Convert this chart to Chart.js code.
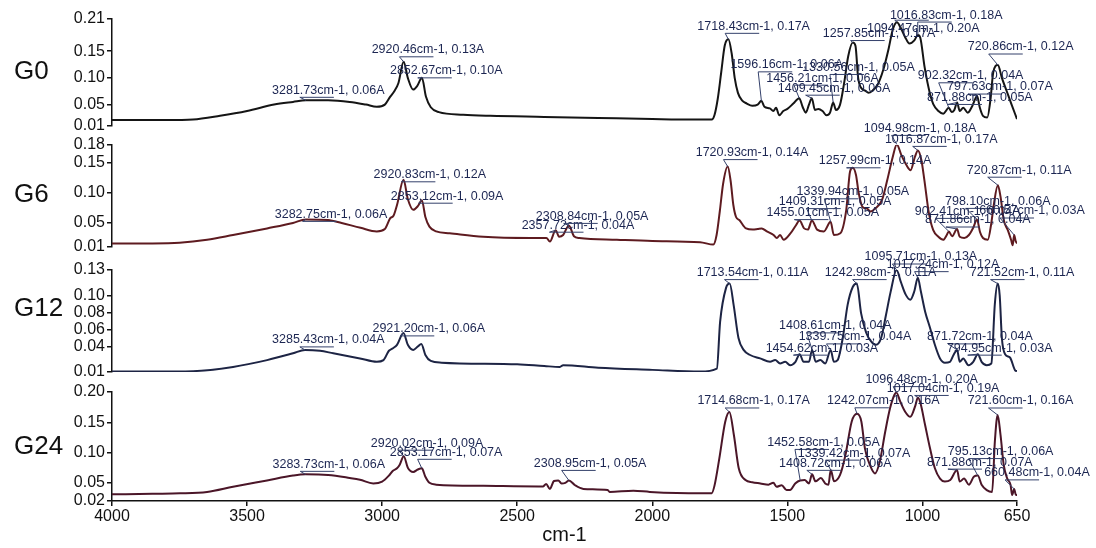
<!DOCTYPE html>
<html>
<head>
<meta charset="utf-8">
<title>FTIR</title>
<script src="https://cdn.jsdelivr.net/npm/chart.js@4/dist/chart.umd.min.js"></script>
<style>
  html, body { margin: 0; padding: 0; background: #fff; }
  #wrap { position: relative; width: 1096px; height: 548px; }
  #wrap canvas { position: absolute; left: 0; top: 0; }
</style>
</head>
<body>
<div id="wrap">
  <canvas id="c0" width="1096" height="548"></canvas>
  <canvas id="c1" width="1096" height="548"></canvas>
  <canvas id="c2" width="1096" height="548"></canvas>
  <canvas id="c3" width="1096" height="548"></canvas>
</div>
<script>
'use strict';

/* ════════════════════════════════════════
   FTIR 스펙트럼 (G0 / G6 / G12 / G24)
   ════════════════════════════════════════ */

var xTicks = [4000, 3500, 3000, 2500, 2000, 1500, 1000, 650];
var panelNames = ['G0', 'G6', 'G12', 'G24'];

/* ─── G0 ─── */
var g0Wn = [4000, 3800, 3700, 3600, 3500, 3400, 3330, 3281.73, 3200, 3120, 3060, 3020, 2990, 2970, 2955, 2940,
  2920.46, 2905, 2885, 2870, 2852.67, 2838, 2820, 2790, 2700, 2600, 2400, 2200, 2000, 1850, 1780, 1770, 1758,
  1745, 1732, 1718.43, 1706, 1695, 1683, 1668, 1650, 1630, 1610, 1596.16, 1585, 1565, 1552, 1542, 1530, 1515,
  1500, 1478, 1456.21, 1443, 1432, 1420, 1409.45, 1398, 1385, 1370, 1355, 1342, 1330.56, 1320, 1305, 1290,
  1275, 1257.85, 1248, 1238, 1225, 1212, 1200, 1185, 1165, 1145, 1125, 1110, 1094.47, 1080, 1065, 1048, 1030,
  1016.83, 1008, 992, 972, 960, 941, 923, 902.32, 892, 882, 871.88, 862, 849, 832, 815, 797.63, 788, 776, 760,
  748, 738, 720.86, 706, 688, 670, 650];
var g0Abs = [0.021, 0.021, 0.022, 0.029, 0.038, 0.050, 0.055, 0.058, 0.058, 0.055, 0.050, 0.046, 0.050, 0.065, 0.075, 0.090,
  0.130, 0.100, 0.078, 0.085, 0.100, 0.065, 0.045, 0.036, 0.031, 0.029, 0.027, 0.025, 0.023, 0.022, 0.022, 0.030, 0.060,
  0.110, 0.160, 0.172, 0.145, 0.100, 0.072, 0.058, 0.052, 0.048, 0.050, 0.057, 0.046, 0.043, 0.038, 0.044, 0.030, 0.038,
  0.042, 0.052, 0.062, 0.045, 0.035, 0.050, 0.062, 0.040, 0.042, 0.038, 0.030, 0.035, 0.054, 0.040, 0.050, 0.090,
  0.140, 0.166, 0.160, 0.100, 0.080, 0.076, 0.072, 0.076, 0.088, 0.115, 0.155, 0.190, 0.204, 0.193, 0.177, 0.164, 0.170,
  0.180, 0.175, 0.120, 0.070, 0.051, 0.038, 0.033, 0.044, 0.036, 0.040, 0.054, 0.038, 0.044, 0.035, 0.048, 0.066, 0.045, 0.029, 0.026,
  0.060, 0.110, 0.124, 0.100, 0.075, 0.050, 0.023];
var g0Ticks = [0.01, 0.05, 0.10, 0.15, 0.21];
var g0Peaks = [3281.73, 2920.46, 2852.67, 1718.43, 1596.16, 1330.56, 1456.21, 1409.45, 1257.85, 1094.47, 1016.83,
  720.86, 902.32, 797.63, 871.88];

/* ─── G6 ─── */
var g6Wn = [4000, 3850, 3750, 3648, 3552, 3426, 3330, 3282.75, 3200, 3150, 3080, 3020, 2990, 2970, 2958, 2945,
  2920.83, 2905, 2885, 2868, 2853.12, 2840, 2825, 2800, 2750, 2626, 2450, 2392, 2379, 2357.72, 2345, 2330, 2308.84,
  2290, 2270, 2131, 2000, 1823, 1774, 1762, 1750, 1738, 1720.93, 1710, 1700, 1690, 1678, 1653, 1628, 1610, 1595,
  1576, 1551, 1539, 1527, 1514, 1488, 1470, 1455.01, 1438, 1424, 1409.31, 1390, 1365, 1339.94, 1328, 1304, 1282,
  1268, 1257.99, 1246, 1236, 1222, 1205, 1192, 1175, 1150, 1130, 1110, 1094.98, 1078, 1060, 1044, 1028, 1016.87,
  1004, 993, 976, 960, 941, 923, 910, 902.41, 890, 871.86, 862, 845, 828, 812, 798.10, 787, 776, 758, 745, 736,
  720.87, 711, 699, 684, 672, 666, 660.57, 655, 650];
var g6Abs = [0.016, 0.016, 0.017, 0.022, 0.030, 0.041, 0.050, 0.056, 0.055, 0.050, 0.042, 0.036, 0.040, 0.058, 0.062, 0.080,
  0.122, 0.090, 0.072, 0.078, 0.088, 0.060, 0.044, 0.036, 0.033, 0.027, 0.025, 0.025, 0.019, 0.038, 0.027, 0.030, 0.046,
  0.028, 0.025, 0.022, 0.020, 0.018, 0.014, 0.030, 0.070, 0.115, 0.144, 0.120, 0.080, 0.060, 0.055, 0.041, 0.039, 0.040, 0.041,
  0.036, 0.030, 0.025, 0.030, 0.022, 0.033, 0.045, 0.054, 0.041, 0.039, 0.054, 0.039, 0.036, 0.052, 0.030, 0.033, 0.072,
  0.136, 0.142, 0.130, 0.100, 0.077, 0.074, 0.069, 0.074, 0.088, 0.122, 0.160, 0.181, 0.163, 0.147, 0.138, 0.160, 0.171,
  0.155, 0.122, 0.066, 0.038, 0.027, 0.022, 0.030, 0.036, 0.028, 0.040, 0.027, 0.025, 0.030, 0.042, 0.056, 0.035, 0.025, 0.022, 0.050, 0.080,
  0.113, 0.094, 0.055, 0.038, 0.022, 0.013, 0.030, 0.020, 0.016];
var g6Ticks = [0.01, 0.05, 0.10, 0.15, 0.18];
var g6Peaks = [3282.75, 2920.83, 2853.12, 2357.72, 2308.84, 1720.93, 1455.01, 1409.31, 1339.94, 1257.99, 1094.98,
  1016.87, 720.87, 798.10, 902.41, 660.57, 871.86];

/* ─── G12 ─── */
var g12Wn = [4000, 3850, 3700, 3552, 3426, 3330, 3285.43, 3230, 3181, 3082, 3020, 2995, 2975, 2960, 2945, 2921.20,
  2905, 2885, 2868, 2855, 2840, 2820, 2780, 2500, 2400, 2342, 2330, 2200, 2000, 1823, 1761, 1749, 1727, 1713.54,
  1699, 1681, 1662, 1638, 1601, 1564, 1545, 1527, 1508, 1490, 1470, 1454.62, 1440, 1420, 1408.61, 1395, 1378,
  1360, 1339.75, 1328, 1314, 1295, 1277, 1258, 1242.98, 1227, 1209, 1190, 1172, 1153, 1135, 1118, 1095.71, 1080,
  1062, 1045, 1030, 1017.24, 1006, 990, 972, 954, 935, 917, 898, 885, 871.72, 862, 849, 830, 812, 794.95, 781, 762,
  745, 732, 721.52, 714, 706, 694, 676, 657, 650];
var g12Abs = [0.0105, 0.0105, 0.011, 0.016, 0.024, 0.032, 0.036, 0.035, 0.032, 0.026, 0.022, 0.024, 0.035, 0.038, 0.042, 0.056,
  0.042, 0.036, 0.040, 0.043, 0.030, 0.023, 0.021, 0.019, 0.017, 0.016, 0.018, 0.015, 0.0125, 0.0105, 0.014, 0.069, 0.109, 0.114,
  0.089, 0.050, 0.036, 0.030, 0.026, 0.022, 0.024, 0.020, 0.022, 0.018, 0.022, 0.031, 0.022, 0.022, 0.036, 0.022, 0.024,
  0.020, 0.036, 0.022, 0.024, 0.050, 0.089, 0.110, 0.114, 0.079, 0.057, 0.046, 0.042, 0.050, 0.077, 0.104, 0.130, 0.116,
  0.101, 0.095, 0.105, 0.121, 0.105, 0.081, 0.062, 0.042, 0.026, 0.021, 0.022, 0.030, 0.036, 0.022, 0.026, 0.018, 0.022, 0.031, 0.022, 0.018,
  0.020, 0.090, 0.114, 0.100, 0.050, 0.031, 0.027, 0.012, 0.011];
var g12Ticks = [0.01, 0.04, 0.06, 0.08, 0.10, 0.13];
var g12Peaks = [3285.43, 2921.20, 1713.54, 1242.98, 1095.71, 1017.24, 721.52, 1408.61, 1339.75, 1454.62, 871.72, 794.95];

/* ─── G24 ─── */
var g24Wn = [4000, 3850, 3748, 3648, 3552, 3426, 3330, 3283.73, 3200, 3120, 3082, 3033, 3000, 2975, 2960, 2945, 2935,
  2920.02, 2905, 2885, 2868, 2853.17, 2840, 2825, 2800, 2625, 2420, 2405, 2393, 2379, 2364, 2348, 2336, 2322,
  2308.95, 2286, 2255, 2165, 2158, 2070, 2009, 1823, 1780, 1770, 1752, 1730, 1714.68, 1698, 1680, 1655, 1630,
  1600, 1570, 1552, 1540, 1521, 1503, 1490, 1471, 1452.58, 1436, 1420, 1408.72, 1396, 1376, 1360, 1348, 1339.42,
  1327, 1305, 1285, 1262, 1242.07, 1226, 1213, 1194, 1176, 1158, 1138, 1120, 1104, 1096.48, 1082, 1064, 1045,
  1026, 1017.04, 1007, 990, 972, 954, 935, 917, 897, 871.88, 862, 846, 828, 810, 795.13, 781, 762, 742, 732, 721.60,
  711, 699, 686, 674, 668, 660.48, 654, 650];
var g24Abs = [0.031, 0.032, 0.0326, 0.035, 0.0435, 0.054, 0.062, 0.064, 0.063, 0.058, 0.055, 0.049, 0.052, 0.062, 0.070, 0.074, 0.080,
  0.094, 0.075, 0.068, 0.072, 0.074, 0.060, 0.050, 0.047, 0.045, 0.044, 0.044, 0.048, 0.040, 0.053, 0.054, 0.049, 0.050,
  0.054, 0.046, 0.040, 0.038, 0.035, 0.037, 0.035, 0.0326, 0.033, 0.045, 0.090, 0.151, 0.167, 0.129, 0.074, 0.0545, 0.051,
  0.049, 0.047, 0.050, 0.0435, 0.046, 0.038, 0.038, 0.049, 0.054, 0.0545, 0.049, 0.064, 0.0525, 0.058, 0.049, 0.047, 0.071,
  0.0525, 0.063, 0.096, 0.151, 0.164, 0.151, 0.107, 0.079, 0.0656, 0.085, 0.134, 0.173, 0.195, 0.199, 0.184, 0.1675, 0.159,
  0.178, 0.191, 0.181, 0.145, 0.107, 0.074, 0.057, 0.052, 0.0545, 0.071, 0.052, 0.057, 0.047, 0.060, 0.062, 0.047, 0.038, 0.035, 0.118, 0.162,
  0.129, 0.079, 0.057, 0.047, 0.030, 0.040, 0.030, 0.030];
var g24Ticks = [0.02, 0.05, 0.10, 0.15, 0.20];
var g24Peaks = [3283.73, 2920.02, 2853.17, 2308.95, 1714.68, 1242.07, 1096.48, 1017.04, 721.60, 1452.58, 1339.42,
  1408.72, 795.13, 871.88, 660.48];

/* ─── 레이아웃 / 스타일 ─── */
var FONT = "'Liberation Sans', Arial, Helvetica, sans-serif";
var INK = '#111';
var LINE_COLORS = ['#151515', '#5e1b20', '#1d2444', '#4b1628'];
var PANEL_BOX = [[19, 126], [145, 247], [270, 372], [392, 501]];   // 플롯 영역 top / bottom
var NAME_Y = [72, 195, 309, 447];

// 피크 라벨 위치 (피크 기준 dx, dy)
var LABEL_OFFSETS = [
  [[-34, -10], [-32, -12], [-32, -7], [-31, -13], [-31, -36], [-31, -35], [-33, -20], [-34, -10], [-30, -9],
   [-30, 6], [-28, -20], [-30, -18], [-31, -32], [-30, -9], [-30, -5]],
  [[-31, -5], [-30, -5], [-31, -4], [-34, -5], [-33, -9], [-32, -14], [-33, -8], [-33, -19], [-34, -30],
   [-34, -7], [-33, -16], [-33, -11], [-31, -15], [-32, -18], [-34, -20], [-35, -24], [-32, -9]],
  [[-33, -10], [-31, -4], [-33, -11], [-32, -11], [-32, -13], [-31, -13], [-28, -11], [-33, -24], [-32, -13],
   [-34, -6], [-30, -13], [-31, -6]],
  [[-33, -10], [-33, -13], [-32, -16], [-35, -17], [-32, -11], [-30, -13], [-31, -13], [-31, -9], [-30, -14],
   [-33, -38], [-33, -17], [-33, -11], [-30, -24], [-30, -8], [-30, -16]]
];

var PANELS = [
  { wn: g0Wn, abs: g0Abs, ticks: g0Ticks, peaks: g0Peaks },
  { wn: g6Wn, abs: g6Abs, ticks: g6Ticks, peaks: g6Peaks },
  { wn: g12Wn, abs: g12Abs, ticks: g12Ticks, peaks: g12Peaks },
  { wn: g24Wn, abs: g24Abs, ticks: g24Ticks, peaks: g24Peaks }
];

/* ─── 피크 라벨 + 패널 이름 ─── */
var calloutPlugin = {
  id: 'callouts',
  afterDatasetsDraw: function (chart) {
    var idx = +chart.canvas.id.slice(1);
    var p = PANELS[idx];
    var offs = LABEL_OFFSETS[idx];
    var xs = chart.scales.x, ys = chart.scales.y;
    var ctx = chart.ctx;

    ctx.save();
    ctx.font = '12.5px ' + FONT;
    ctx.textBaseline = 'middle';
    ctx.lineWidth = 1;
    for (var i = 0; i < p.peaks.length; i++) {
      var wn = p.peaks[i];
      var a = p.abs[p.wn.indexOf(wn)];
      var px = xs.getPixelForValue(wn), py = ys.getPixelForValue(a);
      var text = wn.toFixed(2) + 'cm-1, ' + a.toFixed(2) + 'A';
      var lx = px + offs[i][0], ly = py + offs[i][1];
      var dot = text.indexOf('.');
      var u0 = lx + ctx.measureText(text.slice(0, dot)).width;
      var u1 = lx + ctx.measureText(text.slice(0, dot + 5)).width;
      var uy = offs[i][1] > 0 ? ly - 8 : ly + 7;

      ctx.strokeStyle = '#34416b';
      ctx.beginPath();
      ctx.moveTo(px, py);
      ctx.lineTo(u0, uy);
      ctx.lineTo(u1, uy);
      ctx.stroke();

      ctx.fillStyle = '#1c2652';
      ctx.fillText(text, lx, ly);
    }

    ctx.font = '26px ' + FONT;
    ctx.fillStyle = INK;
    ctx.fillText(panelNames[idx], 14, NAME_Y[idx]);
    ctx.restore();
  }
};

/* ─── 패널 차트 생성 ─── */
function makePanel(idx) {
  var p = PANELS[idx];
  var box = PANEL_BOX[idx];
  var isLast = idx === PANELS.length - 1;

  var pts = [];
  for (var i = 0; i < p.wn.length; i++) {
    pts.push({ x: p.wn[i], y: p.abs[i] });
  }

  return new Chart(document.getElementById('c' + idx), {
    type: 'line',
    data: {
      datasets: [{
        data: pts,
        borderColor: LINE_COLORS[idx],
        borderWidth: 2,
        pointRadius: 0,
        fill: false,
        cubicInterpolationMode: 'monotone'
      }]
    },
    options: {
      responsive: false,
      animation: false,
      events: [],
      layout: { padding: { left: 0, right: 79, top: box[0], bottom: isLast ? 0 : 548 - box[1] } },
      plugins: { legend: { display: false }, tooltip: { enabled: false } },
      scales: {
        x: {
          type: 'linear',
          reverse: true,
          min: 650,
          max: 4000,
          display: isLast,
          afterBuildTicks: function (s) { s.ticks = xTicks.map(function (v) { return { value: v }; }); },
          afterFit: function (s) { s.height = isLast ? 47 : 0; },
          ticks: {
            autoSkip: false, maxRotation: 0, padding: 1, color: INK,
            font: { family: FONT, size: 16 },
            callback: function (v) { return String(v); }
          },
          grid: { drawOnChartArea: false, tickLength: 5, color: INK, lineWidth: 1.5 },
          border: { display: true, color: INK, width: 1.5 },
          title: { display: true, text: 'cm-1', color: INK, font: { family: FONT, size: 20 }, padding: { top: 0, bottom: 1 } }
        },
        y: {
          type: 'linear',
          min: p.ticks[0],
          max: p.ticks[p.ticks.length - 1],
          afterBuildTicks: function (s) { s.ticks = p.ticks.map(function (v) { return { value: v }; }); },
          afterFit: function (s) { s.width = 112; },
          ticks: {
            autoSkip: false, padding: 2, color: INK,
            font: { family: FONT, size: 16 },
            callback: function (v) { return (+v).toFixed(2); }
          },
          grid: { drawOnChartArea: false, tickLength: 5, color: INK, lineWidth: 1.5 },
          border: { display: true, color: INK, width: 1.5 }
        }
      }
    },
    plugins: [calloutPlugin]
  });
}

for (var k = 0; k < PANELS.length; k++) makePanel(k);
</script>
</body>
</html>
